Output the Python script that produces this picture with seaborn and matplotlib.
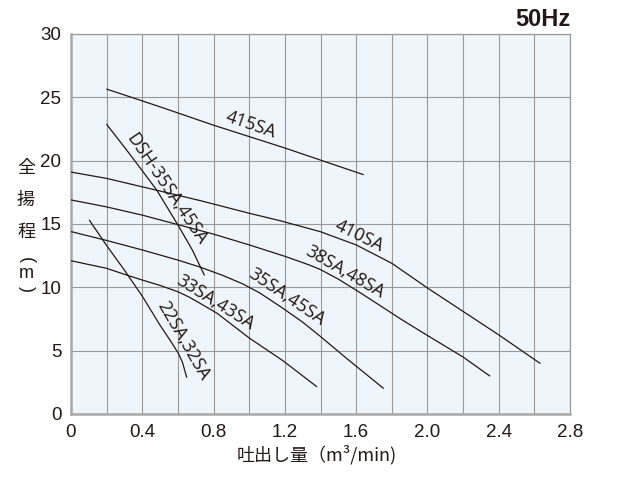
import matplotlib
matplotlib.use('Agg')
import matplotlib.pyplot as plt
from matplotlib.ticker import MultipleLocator
import seaborn as sns

sns.set_theme(style='white')
plt.rcParams['font.family'] = ['Liberation Sans', 'Noto Sans CJK JP', 'DejaVu Sans']

# ---- data ----
x_415 = [0.2, 0.5, 0.8, 1.2, 1.64]
y_415 = [25.65, 24.25, 22.8, 21.0, 18.9]

x_dsh = [0.2, 0.312, 0.4, 0.481, 0.6, 0.68, 0.748]
y_dsh = [22.87, 20.84, 19.2, 17.68, 14.92, 12.97, 10.97]

x_410 = [0, 0.2, 0.5, 0.724, 1.0, 1.173, 1.4, 1.6, 1.8, 2.0, 2.2, 2.4, 2.632]
y_410 = [19.1, 18.6, 17.6, 16.85, 15.85, 15.26, 14.39, 13.35, 11.9, 9.95, 8.1, 6.25, 4.0]

x_38 = [0, 0.2, 0.4, 0.6, 0.8, 1.0, 1.2, 1.34, 1.4, 1.5, 1.62, 1.73, 1.85, 2.0, 2.2, 2.35]
y_38 = [16.9, 16.35, 15.7, 14.95, 14.2, 13.35, 12.45, 11.75, 11.4, 10.65, 9.6, 8.6, 7.5, 6.2, 4.5, 3.0]

x_35 = [0, 0.2, 0.4, 0.6, 0.724, 0.85, 0.967, 1.06, 1.173, 1.3, 1.397, 1.55, 1.753]
y_35 = [14.4, 13.7, 12.95, 12.15, 11.6, 10.95, 10.25, 9.55, 8.5, 7.25, 6.15, 4.35, 2.03]

x_33 = [0, 0.2, 0.312, 0.406, 0.5, 0.6, 0.66, 0.724, 0.82, 1.0, 1.19, 1.379]
y_33 = [12.1, 11.5, 10.97, 10.55, 10.15, 9.65, 9.25, 8.74, 7.95, 6.0, 4.2, 2.16]

x_22 = [0.103, 0.2, 0.3, 0.4, 0.5, 0.55, 0.6, 0.625, 0.649]
y_22 = [15.3, 13.3, 11.35, 9.3, 7.0, 5.95, 4.85, 4.1, 2.9]

curve_labels = ['415SA', 'DSH-35SA,45SA', '410SA', '38SA,48SA', '35SA,45SA', '33SA,43SA', '22SA,32SA']
label_x = [1.008, 0.537, 1.616, 1.538, 1.21, 0.812, 0.63]
label_y = [22.8, 17.76, 14.08, 11.24, 9.21, 8.82, 5.79]
label_rot = [-19, -56, -26, -30, -34, -32, -60]

xtick_vals = [0, 0.4, 0.8, 1.2, 1.6, 2.0, 2.4, 2.8]
xtick_text = ['0', '0.4', '0.8', '1.2', '1.6', '2.0', '2.4', '2.8']
ytick_vals = [0, 5, 10, 15, 20, 25, 30]

ink = '#231815'

fig = plt.figure(figsize=(6.4, 4.8), dpi=100)
ax = fig.add_axes([71/640, 66/480, 499/640, 380/480])
ax.set_facecolor('#eef5fb')

curves = [(x_415, y_415), (x_dsh, y_dsh), (x_410, y_410), (x_38, y_38),
          (x_35, y_35), (x_33, y_33), (x_22, y_22)]
for xs, ys in curves:
    sns.lineplot(x=xs, y=ys, ax=ax, color=ink, linewidth=0.9, sort=False,
                 estimator=None, zorder=3, solid_joinstyle='round')

for t, lx, ly, r in zip(curve_labels, label_x, label_y, label_rot):
    ax.text(lx, ly, t, rotation=r, rotation_mode='anchor', ha='center', va='center',
            fontsize=13, family='Open Sans', color=ink, zorder=4)

ax.set_xlim(0, 2.8)
ax.set_ylim(0, 30)
ax.set_xticks(xtick_vals)
ax.set_xticklabels(xtick_text)
ax.set_yticks(ytick_vals)
ax.xaxis.set_minor_locator(MultipleLocator(0.2))
ax.grid(which='both', color='#9a9a9a', linewidth=0.8, zorder=1)
ax.set_axisbelow(True)
ax.tick_params(axis='both', which='both', length=0, pad=7, labelsize=13.5, labelcolor=ink)

for side in ['top', 'right']:
    ax.spines[side].set_color('#9a9a9a')
    ax.spines[side].set_linewidth(0.9)
for side in ['left', 'bottom']:
    ax.spines[side].set_color('#a8a8a8')
    ax.spines[side].set_linewidth(1.8)

# axis titles
cjk = ['Noto Sans CJK JP', 'DejaVu Sans']
for ch, py in zip(['全', '揚', '程'], [168, 200, 232]):
    fig.text(26/640, 1 - py/480, ch, ha='center', va='center', fontsize=13,
             family=cjk, color=ink)
fig.text(26/640, 1 - 274/480, 'm', ha='center', va='center', fontsize=13,
         family='Liberation Sans', color=ink)
fig.text(26/640, 1 - 260/480, '(', rotation=-90, rotation_mode='anchor',
         ha='center', va='center', fontsize=13, family='Liberation Sans', color=ink)
fig.text(26/640, 1 - 289/480, ')', rotation=-90, rotation_mode='anchor',
         ha='center', va='center', fontsize=13, family='Liberation Sans', color=ink)

fig.text(317/640, 1 - 455/480, '吐出し量（m³/min)', ha='center', va='center',
         fontsize=13, family=cjk, color=ink)
fig.text(570/640, 1 - 20/480, '50Hz', ha='right', va='center', fontsize=17,
         fontweight='bold', color=ink)

fig.savefig('out.png', dpi=100)
